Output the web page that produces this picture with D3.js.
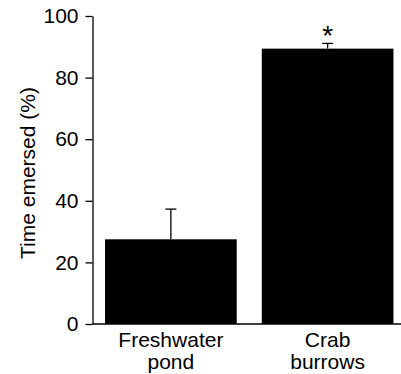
<!DOCTYPE html>
<html>
<head>
<meta charset="utf-8">
<script src="https://cdn.jsdelivr.net/npm/d3@7"></script>
<style>
  body { margin: 0; background: #fff; }
  svg text { font-family: "Liberation Sans", Arial, sans-serif; fill: #000; }
</style>
</head>
<body>
<svg id="chart" width="401" height="374"></svg>
<script>
// data
const habitats = ["Freshwater pond", "Crab burrows"];
const labelLines = [["Freshwater", "pond"], ["Crab", "burrows"]];
const timeEmersed = [27.5, 89.4];
const errUpper = [37.3, 91.1];
const significant = [false, true];
const yTicks = [0, 20, 40, 60, 80, 100];

const svg = d3.select("#chart");

const x = d3.scaleBand()
  .domain(habitats)
  .range([92.5, 406])
  .paddingInner(0.16)
  .paddingOuter(0.08);

const y = d3.scaleLinear()
  .domain([0, 100])
  .range([324, 16]);

// y axis
const yAxis = svg.append("g")
  .attr("transform", "translate(92.5,0)")
  .call(d3.axisLeft(y).tickValues(yTicks).tickSize(7).tickPadding(7).tickSizeOuter(0));
yAxis.select(".domain").attr("stroke", "#000").attr("stroke-width", 1.3);
yAxis.selectAll(".tick line").attr("stroke", "#000").attr("stroke-width", 1.3);
yAxis.selectAll(".tick text")
  .attr("font-size", 21)
  .attr("font-family", "Liberation Sans, Arial, sans-serif")
  .attr("fill", "#000");

// baseline
svg.append("line")
  .attr("x1", 92.5).attr("x2", 401)
  .attr("y1", y(0)).attr("y2", y(0))
  .attr("stroke", "#000").attr("stroke-width", 1.3);

// bars
svg.selectAll("rect.bar")
  .data(habitats)
  .enter()
  .append("rect")
  .attr("class", "bar")
  .attr("x", d => x(d))
  .attr("width", x.bandwidth())
  .attr("y", (d, i) => y(timeEmersed[i]))
  .attr("height", (d, i) => y(0) - y(timeEmersed[i]))
  .attr("fill", "#000");

// error bars (upper only)
const err = svg.selectAll("g.err")
  .data(habitats)
  .enter()
  .append("g")
  .attr("class", "err");
err.append("line")
  .attr("x1", d => x(d) + x.bandwidth() / 2)
  .attr("x2", d => x(d) + x.bandwidth() / 2)
  .attr("y1", (d, i) => y(timeEmersed[i]))
  .attr("y2", (d, i) => y(errUpper[i]))
  .attr("stroke", "#000").attr("stroke-width", 1.3);
err.append("line")
  .attr("x1", d => x(d) + x.bandwidth() / 2 - 5.5)
  .attr("x2", d => x(d) + x.bandwidth() / 2 + 5.5)
  .attr("y1", (d, i) => y(errUpper[i]))
  .attr("y2", (d, i) => y(errUpper[i]))
  .attr("stroke", "#000").attr("stroke-width", 1.3);

// significance marker
svg.selectAll("text.sig")
  .data(habitats.filter((d, i) => significant[i]))
  .enter()
  .append("text")
  .attr("class", "sig")
  .attr("x", d => x(d) + x.bandwidth() / 2)
  .attr("y", d => y(errUpper[habitats.indexOf(d)]) + 2)
  .attr("text-anchor", "middle")
  .attr("font-size", 28)
  .text("*");

// category labels
habitats.forEach((h, i) => {
  const t = svg.append("text")
    .attr("x", x(h) + x.bandwidth() / 2)
    .attr("y", 347)
    .attr("text-anchor", "middle")
    .attr("font-size", 21);
  labelLines[i].forEach((line, j) => {
    t.append("tspan")
      .attr("x", x(h) + x.bandwidth() / 2)
      .attr("dy", j === 0 ? 0 : 21.5)
      .text(line);
  });
});

// y axis title
svg.append("text")
  .attr("transform", "translate(35,173) rotate(-90)")
  .attr("text-anchor", "middle")
  .attr("font-size", 21)
  .text("Time emersed (%)");
</script>
</body>
</html>
